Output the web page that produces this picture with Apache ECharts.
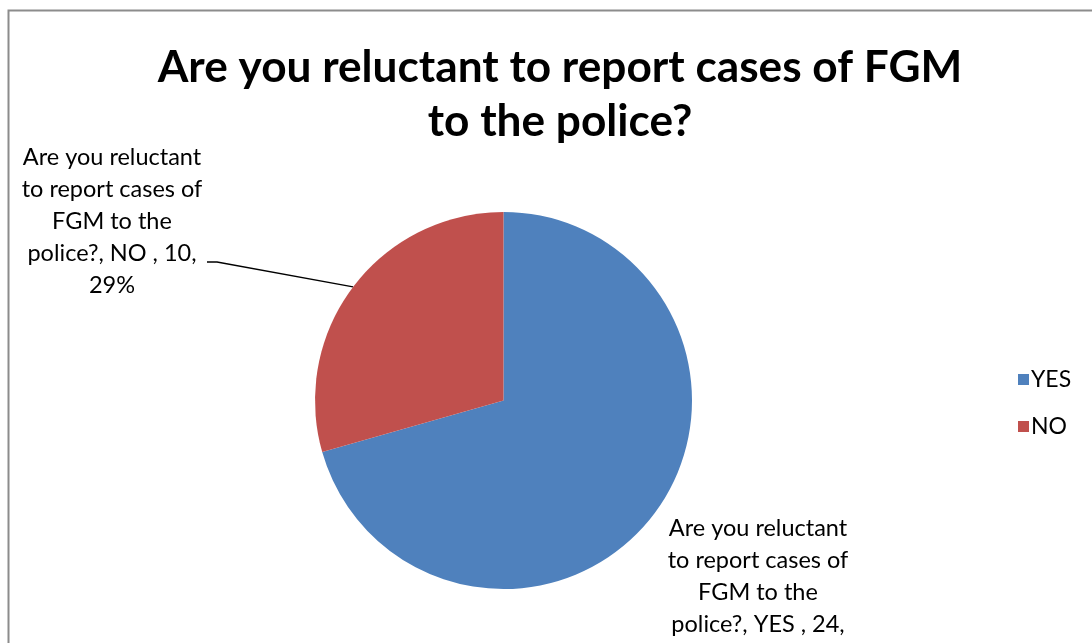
<!DOCTYPE html>
<html>
<head>
<meta charset="utf-8">
<script src="https://cdn.jsdelivr.net/npm/echarts@6/dist/echarts.min.js"></script>
<style>
  html, body { margin: 0; padding: 0; background: #fff; }
  #chart { width: 1092px; height: 643px; }
</style>
</head>
<body>
<div id="chart"></div>
<script>
// Survey answers for the pie
const question = 'Are you reluctant to report cases of FGM to the police?';
const categories = ['YES', 'NO'];
const counts = [24, 10];
const sliceColors = ['#4F81BD', '#C0504D'];

const FONT = 'Lato, "Open Sans", sans-serif';

const chart = echarts.init(document.getElementById('chart'), null, { renderer: 'canvas' });

// Label text: question wrapped over lines, then "name , value," and percent
function labelText(p) {
  return 'Are you reluctant\nto report cases of\nFGM to the\n' +
    'police?, ' + p.name + ' , ' + p.value + ',\n' + Math.round(p.percent) + '%';
}

// Label anchor points (centre of the text block, top line)
const labelSpots = [
  { x: 758, y: 512 },
  { x: 112, y: 141 }
];

chart.setOption({
  backgroundColor: '#fff',
  animation: false,
  title: {
    text: 'Are you reluctant to report cases of FGM\nto the police?',
    left: 555,
    top: 36,
    textAlign: 'center',
    textStyle: {
      fontFamily: FONT,
      fontWeight: 'bold',
      fontSize: 44.2,
      lineHeight: 54,
      color: '#000'
    }
  },
  legend: {
    orient: 'vertical',
    left: 1013,
    top: 361,
    icon: 'rect',
    itemWidth: 11,
    itemHeight: 11,
    itemGap: 20,
    textStyle: { fontFamily: FONT, fontSize: 23, lineHeight: 27, color: '#000', padding: [0, 0, 0, -3] },
    data: categories
  },
  graphic: [{
    type: 'rect',
    shape: { x: 8.5, y: 10.5, width: 1200, height: 800 },
    style: { fill: 'none', stroke: '#8c8c8c', lineWidth: 2 },
    silent: true
  }],
  series: [{
    type: 'pie',
    name: question,
    center: [503.5, 400.5],
    radius: [0, 188.5],
    startAngle: 90,
    clockwise: true,
    label: {
      show: true,
      formatter: labelText,
      fontFamily: FONT,
      fontSize: 23.5,
      lineHeight: 32,
      color: '#000',
      align: 'center'
    },
    labelLine: {
      show: true,
      length: 10,
      length2: 10,
      smooth: false,
      lineStyle: { color: '#000', width: 1.3 }
    },
    labelLayout: function (params) {
      const s = labelSpots[params.dataIndex];
      const out = { x: s.x, y: s.y, align: 'center', verticalAlign: 'top' };
      if (params.labelLinePoints) {
        // leader runs from the slice edge to the end of the fourth text line
        const start = params.labelLinePoints[0];
        out.labelLinePoints = [
          [start[0], start[1]],
          [s.x + 105, s.y + 121],
          [s.x + 95, s.y + 121]
        ];
      }
      return out;
    },
    data: categories.map((c, i) => ({
      name: c,
      value: counts[i],
      itemStyle: { color: sliceColors[i] },
      labelLine: { show: i === 1 }
    }))
  }]
});
</script>
</body>
</html>
